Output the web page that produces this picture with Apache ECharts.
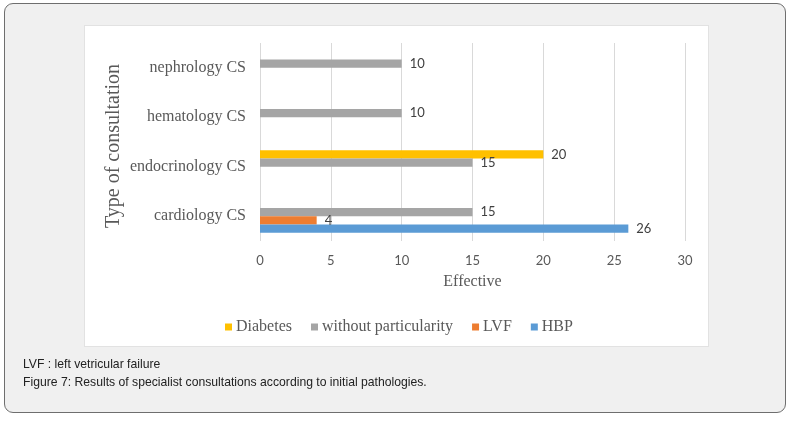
<!DOCTYPE html>
<html>
<head>
<meta charset="utf-8">
<script src="https://cdn.jsdelivr.net/npm/echarts@6/dist/echarts.min.js"></script>
<style>
  html, body { margin: 0; padding: 0; width: 789px; height: 423px; background: #ffffff; overflow: hidden; }
  #frame { position: absolute; left: 4px; top: 3px; width: 780px; height: 408px; border: 1px solid #6e6e6e; border-radius: 9px; background: #f0f0f0; box-sizing: content-box; }
  #box { position: absolute; left: 84px; top: 25px; width: 623px; height: 320px; background: #ffffff; border: 1px solid #e2e2e2; }
  #chart { position: absolute; left: 0; top: 0; width: 789px; height: 423px; }
  #caption { position: absolute; left: 23px; top: 355px; font-family: "Liberation Sans", Arial, sans-serif; font-size: 12.2px; line-height: 18px; color: #222222; }
</style>
</head>
<body>
<div id="frame"></div>
<div id="box"></div>
<div id="chart"></div>
<div id="caption">LVF : left vetricular failure<br>Figure 7: Results of specialist consultations according to initial pathologies.</div>
<script>
const categories = ['cardiology CS', 'endocrinology CS', 'hematology CS', 'nephrology CS'];
const seriesNames = ['Diabetes', 'without particularity', 'LVF', 'HBP'];
const diabetes = [null, 20, null, null];
const withoutParticularity = [15, 15, 10, 10];
const lvf = [4, null, null, null];
const hbp = [26, null, null, null];
const xTicks = { min: 0, max: 30, interval: 5 };
const colors = ['#FFC000', '#A5A5A5', '#ED7D31', '#5B9BD5'];

const chart = echarts.init(document.getElementById('chart'), null, { renderer: 'canvas' });
const values = [diabetes, withoutParticularity, lvf, hbp];
const serif = '"Liberation Serif", "Times New Roman", serif';
const sans = 'Lato, "Liberation Sans", sans-serif';

chart.setOption({
  animation: false,
  color: colors,
  grid: { left: 260, right: 104, top: 43, bottom: 182, containLabel: false },
  legend: {
    data: seriesNames,
    left: 220, top: 314,
    icon: 'rect', itemWidth: 7, itemHeight: 7, itemGap: 19,
    textStyle: { fontFamily: serif, fontSize: 16, color: '#595959', padding: [0, 0, 0, -1] }
  },
  xAxis: {
    type: 'value', min: xTicks.min, max: xTicks.max, interval: xTicks.interval,
    name: 'Effective', nameLocation: 'middle', nameGap: 33, nameMoveOverlap: false,
    nameTextStyle: { fontFamily: serif, fontSize: 16, color: '#595959' },
    axisLine: { show: false }, axisTick: { show: false },
    axisLabel: { fontFamily: sans, fontSize: 13, color: '#595959', margin: 13 },
    splitLine: { show: true, lineStyle: { color: '#d9d9d9', width: 1 } }
  },
  yAxis: {
    type: 'category', data: categories,
    name: 'Type of consultation', nameLocation: 'middle', nameGap: 136, nameRotate: 90, nameMoveOverlap: false,
    nameTextStyle: { fontFamily: serif, fontSize: 20, color: '#595959', padding: [0, 8, 0, 0] },
    axisLine: { show: false }, axisTick: { show: false },
    axisLabel: { fontFamily: serif, fontSize: 16, color: '#595959', margin: 14 },
    splitLine: { show: false }
  },
  series: seriesNames.map((name, i) => ({
    name: name, type: 'bar', data: values[i],
    barGap: '0%', barCategoryGap: '33%',
    label: { show: true, position: 'right', distance: 8, fontFamily: sans, fontSize: 13, color: '#404040' }
  }))
});
</script>
</body>
</html>
